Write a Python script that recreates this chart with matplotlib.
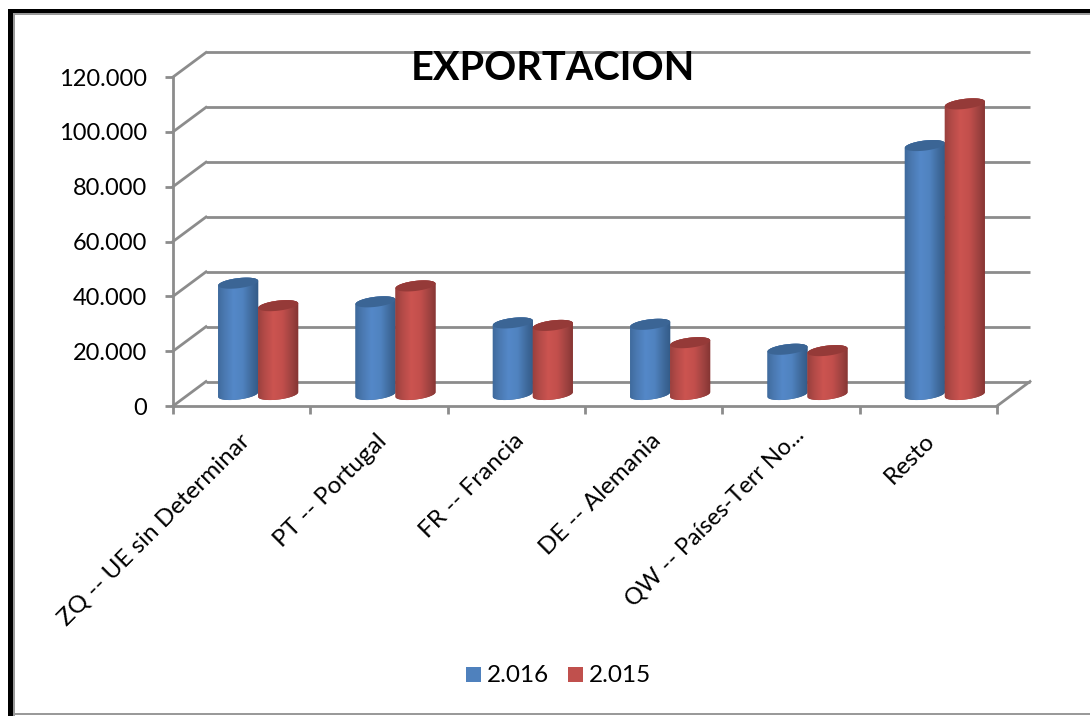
import numpy as np
import matplotlib
matplotlib.use("Agg")
import matplotlib.pyplot as plt
from matplotlib.path import Path
from matplotlib.patches import PathPatch, Rectangle
from matplotlib.transforms import Affine2D, IdentityTransform
from matplotlib.colors import LinearSegmentedColormap

categories = ["ZQ -- UE sin Determinar", "PT -- Portugal", "FR -- Francia",
              "DE -- Alemania", "QW -- Países-Terr No...", "Resto"]
values_2016 = [40600, 33800, 26100, 25600, 16500, 90800]
values_2015 = [32400, 39600, 25200, 18900, 16000, 106000]
y_ticks = [0, 20000, 40000, 60000, 80000, 100000, 120000]
y_labels = ["0", "20.000", "40.000", "60.000", "80.000", "100.000", "120.000"]
series_names = ["2.016", "2.015"]
title_text = "EXPORTACION"

W, H = 1090, 716
plt.rcParams['font.family'] = ['Lato', 'DejaVu Sans']
fig = plt.figure(figsize=(W/100, H/100), dpi=100, facecolor="white")
L, R, T, B = 173, 997, 77, 406
ax = fig.add_axes([L/W, 1-B/H, (R-L)/W, (B-T)/H])
ax.patch.set_alpha(0)
GRID = "#8c8c8c"
DX, DY = 33, 24.5   # depth of the 3-D box, pixels
x_pos = np.arange(len(categories)) + 0.5
ax.set_xlim(0, len(categories))
ax.set_ylim(0, 120000)

back = ax.transData + Affine2D().translate(DX, DY)
for t in y_ticks:
    ax.plot([0, 6], [t, t], transform=back, color=GRID, lw=2.0, clip_on=False, zorder=1,
            solid_capstyle="butt")
    p0 = ax.transData.transform((0, t))
    ax.plot([p0[0], p0[0]+DX], [p0[1], p0[1]+DY], transform=IdentityTransform(),
            color=GRID, lw=2.0, clip_on=False, zorder=1)
p6 = ax.transData.transform((6, 0))
ax.plot([p6[0], p6[0]+DX], [p6[1], p6[1]+DY], transform=IdentityTransform(),
        color=GRID, lw=2.0, clip_on=False, zorder=1)

for s in ("top", "right"):
    ax.spines[s].set_visible(False)
for s in ("left", "bottom"):
    ax.spines[s].set_color(GRID)
    ax.spines[s].set_linewidth(2.0)
ax.set_yticks(y_ticks, y_labels, fontsize=17, color="black")
ax.set_xticks(range(len(categories)+1), [""]*(len(categories)+1))
ax.tick_params(axis="both", color=GRID, width=2.0, length=5.8)
ax.tick_params(axis="y", pad=13)

label_shift = {4: (5, 6), 5: (-2, 0)}
label_size = {4: 16.9}
for i, (xp, c) in enumerate(zip(x_pos, categories)):
    sx, sy = label_shift.get(i, (0, 0))
    ax.annotate(c, xy=(xp, 0), xycoords="data", xytext=(-3 + sx, -24 + sy), textcoords="offset pixels",
                rotation=45, rotation_mode="anchor", ha="right", va="top",
                fontsize=label_size.get(i, 17.5), color="black")

CM_BLUE = LinearSegmentedColormap.from_list("b", ["#3a6494", "#4a78b0", "#5488c8", "#5083c0", "#3f6a9c", "#2f5580"])
CM_RED = LinearSegmentedColormap.from_list("r", ["#8f3c3a", "#b24a47", "#cc5450", "#c24f4c", "#9e4240", "#7a302e"])
TOP_BLUE, TOP_RED = "#3b6595", "#953a38"

OFFX, OFFY, HALF_W, SEMI, TILT = 16.5, 11.5, 20.0, 5.0, np.deg2rad(7)
BAR_W = 40.0 / ((R-L)/6)
grad = np.linspace(0, 1, 256).reshape(1, -1)

def ellipse(cx, cy, t):
    rw = HALF_W / np.cos(TILT)
    x = cx + rw*np.cos(t)*np.cos(TILT) - SEMI*np.sin(t)*np.sin(TILT)
    y = cy + rw*np.cos(t)*np.sin(TILT) + SEMI*np.sin(t)*np.cos(TILT)
    return x, y

def cylinder(xc, val, cmap, top_color, z):
    bx, by = ax.transData.transform((xc, 0)) + np.array([OFFX, OFFY])
    tx, ty = ax.transData.transform((xc, val)) + np.array([OFFX, OFFY])
    a = np.linspace(np.pi, 2*np.pi, 40)
    ex, ey = ellipse(bx, by, a)
    a2 = np.linspace(0, np.pi, 40)
    ux, uy = ellipse(tx, ty, a2)
    body = np.vstack([np.c_[ex, ey], np.c_[ux, uy], [[ex[0], ey[0]]]])
    path = Path(body)
    patch = PathPatch(path, transform=IdentityTransform(), facecolor=top_color, lw=0, zorder=z, clip_on=False)
    ax.add_patch(patch)
    im = ax.imshow(grad, cmap=cmap, aspect="auto", interpolation="bilinear",
                   extent=(bx-HALF_W-3, bx+HALF_W+3, by-12, ty+12),
                   transform=IdentityTransform(), zorder=z+0.1, clip_on=True)
    im.set_clip_path(patch)
    a3 = np.linspace(0, 2*np.pi, 80)
    tex, tey = ellipse(tx, ty, a3)
    ax.add_patch(PathPatch(Path(np.c_[tex, tey]), transform=IdentityTransform(),
                           facecolor=top_color, lw=0, zorder=z+0.2, clip_on=False))

z = 3
for xp, v16, v15 in zip(x_pos, values_2016, values_2015):
    cylinder(xp - BAR_W/2, v16, CM_BLUE, TOP_BLUE, z)
    cylinder(xp + BAR_W/2, v15, CM_RED, TOP_RED, z+1)
    z += 2
ax.set_xlim(0, len(categories))
ax.set_ylim(0, 120000)

fig.text(553/W, 1-68/H, title_text, fontsize=28.6, fontweight="bold", ha="center", va="center", color="black")

for xpx, col, name in [(466, "#4f81bd", series_names[0]), (568, "#c0504d", series_names[1])]:
    fig.add_artist(Rectangle((xpx/W, 1-682/H), 15/W, 15/H, transform=fig.transFigure, facecolor=col, lw=0))
    fig.text((xpx+21)/W, 1-676/H, name, fontsize=17.5, ha="left", va="center", color="black")

# frame
fig.add_artist(Rectangle((8/W, 0), 5/W, 1-9/H, transform=fig.transFigure, facecolor="black", lw=0))
fig.add_artist(Rectangle((8/W, 1-13/H), 1-8/W, 4/H, transform=fig.transFigure, facecolor="black", lw=0))
fig.add_artist(Rectangle((13/W, 0), 1.5/W, 1-13/H, transform=fig.transFigure, facecolor="#9a9a9a", lw=0))
fig.add_artist(Rectangle((13/W, 1-15/H), 1-13/W, 2/H, transform=fig.transFigure, facecolor="#9a9a9a", lw=0))
fig.add_artist(Rectangle((13/W, 1/H), 1-13/W, 2/H, transform=fig.transFigure, facecolor="#9a9a9a", lw=0))

fig.savefig("out.png", dpi=100)
